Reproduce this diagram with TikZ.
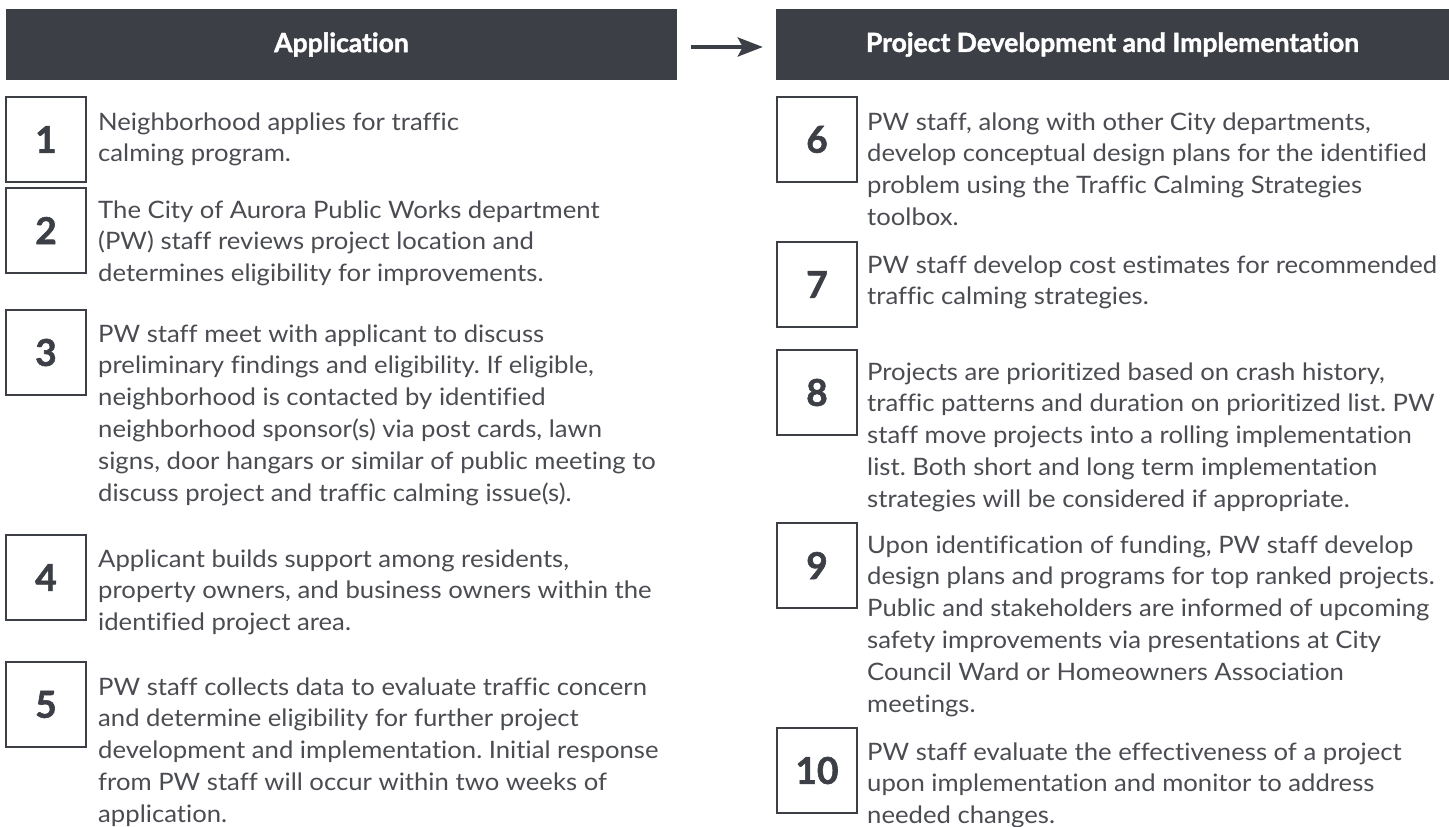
\documentclass[tikz,border=0pt]{standalone}
\usepackage{fontspec}
\setmainfont{Lato}[Ligatures={NoCommon}]
\newfontfamily\bodyfont{Lato}[Ligatures={NoCommon}, FakeStretch=1.07]
\newfontfamily\heavyfont{Lato}[Ligatures={NoCommon}, BoldFeatures={FakeBold=1.6}]
\usetikzlibrary{arrows.meta}
\definecolor{hdr}{HTML}{3D3F46}
\definecolor{txt}{HTML}{4A4C52}
\frenchspacing
\begin{document}
\begin{tikzpicture}[x=1pt,y=-1pt,
  hdrbox/.style={fill=hdr, text=white, inner sep=0pt, minimum height=71pt,
    font=\heavyfont\fontsize{26.5}{30}\selectfont\bfseries},
  numbox/.style={draw=hdr, line width=2.5pt, minimum width=80pt, minimum height=85pt,
    inner sep=0pt, text=hdr, font=\heavyfont\fontsize{37}{40}\selectfont\bfseries},
  desc/.style={anchor=north west, inner sep=0pt, align=left, text=txt,
    font=\bodyfont\fontsize{24}{31.8}\selectfont\frenchspacing},
  flowarrow/.style={draw=hdr, line width=4pt, -{Stealth[length=25pt,width=19pt,inset=5pt]}}]
\path[use as bounding box] (0,0) rectangle (1449,827);

% headers
\node[hdrbox, minimum width=671pt] (h1) at (341.5,44.5) {Application};
\node[hdrbox, minimum width=673pt] (h2) at (1112.5,44.5) {Project Development and Implementation};
\draw[flowarrow, shorten <=14pt, shorten >=13pt] ([yshift=-2.5pt]h1.east) -- ([yshift=-2.5pt]h2.west);

% left column
\node[numbox] (n1) at (46,139.5) {1};
\node[desc] (d1) at (98,107.7) {\strut Neighborhood applies for traffic\\calming program.};
\node[numbox] (n2) at (46,230.5) {2};
\node[desc] (d2) at (98,195.7) {\strut The City of Aurora Public Works department\\(PW) staff reviews project location and\\determines eligibility for improvements.};
\node[numbox] (n3) at (46,352.5) {3};
\node[desc] (d3) at (98,319.7) {\strut PW staff meet with applicant to discuss\\preliminary findings and eligibility. If eligible,\\neighborhood is contacted by identified\\neighborhood sponsor(s) via post cards, lawn\\signs, door hangars or similar of public meeting to\\discuss project and traffic calming issue(s).};
\node[numbox] (n4) at (46,577.5) {4};
\node[desc] (d4) at (98,544.7) {\strut Applicant builds support among residents,\\property owners, and business owners within the\\identified project area.};
\node[numbox] (n5) at (46,704.5) {5};
\node[desc] (d5) at (98,672.7) {\strut PW staff collects data to evaluate traffic concern\\and determine eligibility for further project\\development and implementation. Initial response\\from PW staff will occur within two weeks of\\application.};

% right column
\node[numbox] (n6) at (817,139.5) {6};
\node[desc] (d6) at (867,107.7) {\strut PW staff, along with other City departments,\\develop conceptual design plans for the identified\\problem using the Traffic Calming Strategies\\toolbox.};
\node[numbox] (n7) at (817,284.5) {7};
\node[desc] (d7) at (867,250.7) {\strut PW staff develop cost estimates for recommended\\traffic calming strategies.};
\node[numbox] (n8) at (817,392.5) {8};
\node[desc] (d8) at (867,357.7) {\strut Projects are prioritized based on crash history,\\traffic patterns and duration on prioritized list. PW\\staff move projects into a rolling implementation\\list. Both short and long term implementation\\strategies will be considered if appropriate.};
\node[numbox] (n9) at (817,565.5) {9};
\node[desc] (d9) at (867,530.7) {\strut Upon identification of funding, PW staff develop\\design plans and programs for top ranked projects.\\Public and stakeholders are informed of upcoming\\safety improvements via presentations at City\\Council Ward or Homeowners Association\\meetings.};
\node[numbox] (n10) at (817,770.5) {10};
\node[desc] (d10) at (867,737.7) {\strut PW staff evaluate the effectiveness of a project\\upon implementation and monitor to address\\needed changes.};
\end{tikzpicture}
\end{document}
